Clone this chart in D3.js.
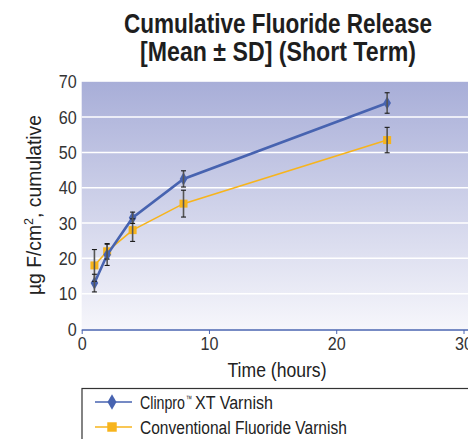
<!DOCTYPE html>
<html><head><meta charset="utf-8">
<script src="https://cdn.jsdelivr.net/npm/d3@7"></script>
<style>
body{margin:0;background:#fff;}
text{font-family:"Liberation Sans","Arial",sans-serif;}
</style></head>
<body><svg id="c" width="468" height="439"></svg>
<script>
const hours = [1, 2, 4, 8, 24];
const clinproMean = [13, 21, 31.5, 42.5, 64];
const clinproSD = [2.5, 3, 1.6, 2.3, 2.9];
const conventionalMean = [18, 22, 28, 35.5, 53.5];
const conventionalSD = [4.5, 2.2, 3.2, 3.8, 3.6];
const xTicks = [0, 10, 20, 30];
const yTicks = [0, 10, 20, 30, 40, 50, 60, 70];
const seriesNames = ["Clinpro\u2122 XT Varnish", "Conventional Fluoride Varnish"];
const titleLines = ["Cumulative Fluoride Release", "[Mean \u00b1 SD] (Short Term)"];

const svg = d3.select("#c");
const x = d3.scaleLinear().domain([0, 30]).range([81.7, 463.5]);
const y = d3.scaleLinear().domain([0, 70]).range([329, 81.8]);

function squeeze(sel, k) {
  sel.each(function() {
    const len = this.getComputedTextLength();
    d3.select(this).attr("textLength", len * k).attr("lengthAdjust", "spacingAndGlyphs");
  });
}
// text drawn inside a horizontally scaled group so it fits a given width
function narrowText(parent, cx, cy, anchor, width, size, weight, str) {
  const g = parent.append("g");
  const t = g.append("text").attr("x",0).attr("y",0).attr("text-anchor",anchor)
    .attr("font-size",size).attr("font-weight",weight).attr("fill","#1e1e1e").text(str);
  const k = width / t.node().getComputedTextLength();
  g.attr("transform",`translate(${cx},${cy}) scale(${k},1)`);
  return t;
}

const defs = svg.append("defs");
const grad = defs.append("linearGradient").attr("id","bg").attr("x1",0).attr("y1",0).attr("x2",0).attr("y2",1);
grad.append("stop").attr("offset","0%").attr("stop-color","#a8aed8");
grad.append("stop").attr("offset","100%").attr("stop-color","#f6f6fb");

svg.append("rect").attr("x", x(0)).attr("y", y(70)).attr("width", 468 - x(0)).attr("height", y(0) - y(70)).attr("fill","url(#bg)");

svg.append("g").selectAll("line").data(yTicks.filter(d=>d>0 && d<70)).join("line")
  .attr("x1", x(0)).attr("x2", 468).attr("y1", d=>y(d)).attr("y2", d=>y(d))
  .attr("stroke","#fff").attr("stroke-width",1.5);

const xAxis = svg.append("g").attr("transform",`translate(0,${y(0)+1})`)
  .call(d3.axisBottom(x).tickValues(xTicks).tickSize(4).tickPadding(3));
xAxis.select(".domain").attr("stroke","#4a65b0").attr("stroke-width",1.5).attr("d",`M${x(0)},0H468`);
xAxis.selectAll(".tick line").attr("stroke","#4a65b0");
xAxis.selectAll("text").attr("font-size",19).attr("fill","#333").attr("font-family","Liberation Sans, sans-serif");
squeeze(xAxis.selectAll("text"), 0.85);

const yAxis = svg.append("g").attr("transform",`translate(${x(0)-5},0)`)
  .call(d3.axisLeft(y).tickValues(yTicks).tickSize(0).tickPadding(0));
yAxis.select(".domain").remove();
yAxis.selectAll("text").attr("font-size",19).attr("fill","#333").attr("font-family","Liberation Sans, sans-serif");
squeeze(yAxis.selectAll("text"), 0.85);

narrowText(svg, 278, 33, "middle", 308, 28, "bold", titleLines[0]);
narrowText(svg, 278, 61, "middle", 276, 28, "bold", titleLines[1]);
narrowText(svg, 277, 377, "middle", 99, 20, "normal", "Time (hours)").attr("fill","#222");

svg.append("text").attr("transform","translate(41,205) rotate(-90)").attr("text-anchor","middle")
  .attr("font-size",20).attr("fill","#222")
  .html('\u00b5g F/cm<tspan dy="-8" font-size="13">2</tspan><tspan dy="8">, cumulative</tspan>')
  .attr("textLength",180).attr("lengthAdjust","spacingAndGlyphs");

const series = [
  {name: seriesNames[0], mean: clinproMean, sd: clinproSD, color: "#4763b0", w: 2.6, shape: d3.symbolDiamond, size: 50},
  {name: seriesNames[1], mean: conventionalMean, sd: conventionalSD, color: "#f7b41c", w: 1.6, shape: d3.symbolSquare, size: 64}
];

const line = d3.line().x(d=>x(d[0])).y(d=>y(d[1]));
[series[1], series[0]].forEach(s => {
  const pts = hours.map((h,i)=>[h, s.mean[i], s.sd[i]]);
  svg.append("path").attr("d", line(pts)).attr("fill","none").attr("stroke", s.color).attr("stroke-width", s.w);
  svg.append("g").selectAll("path").data(pts).join("path")
    .attr("d", d3.symbol().type(s.shape).size(s.size))
    .attr("transform", d=>`translate(${x(d[0])},${y(d[1])})`).attr("fill", s.color);
});
[series[1], series[0]].forEach(s => {
  const pts = hours.map((h,i)=>[h, s.mean[i], s.sd[i]]);
  const g = svg.append("g").attr("stroke","#1a1a1a").attr("stroke-width",1.1);
  pts.forEach(d => {
    const cx = x(d[0]);
    g.append("line").attr("x1",cx).attr("x2",cx).attr("y1",y(d[1]-d[2])).attr("y2",y(d[1]+d[2])).attr("stroke","#555").attr("stroke-width",1.6);
    g.append("line").attr("x1",cx-2.5).attr("x2",cx+2.5).attr("y1",y(d[1]-d[2])).attr("y2",y(d[1]-d[2]));
    g.append("line").attr("x1",cx-2.5).attr("x2",cx+2.5).attr("y1",y(d[1]+d[2])).attr("y2",y(d[1]+d[2]));
  });
});

svg.append("rect").attr("x",82).attr("y",388.5).attr("width",400).attr("height",60)
  .attr("fill","#fff").attr("stroke","#333").attr("stroke-width",1.2);
series.forEach((s,i) => {
  const ly = 402 + i*25;
  svg.append("line").attr("x1",95).attr("x2",132).attr("y1",ly).attr("y2",ly).attr("stroke",s.color).attr("stroke-width",1.5);
  svg.append("path").attr("d", d3.symbol().type(s.shape).size(s.size*1.4)).attr("transform",`translate(112,${ly})`).attr("fill",s.color);
  if (i === 0) {
    const parts = s.name.split("\u2122");
    narrowText(svg, 140, ly+7, "start", 45, 19, "normal", parts[0]).attr("fill","#222");
    narrowText(svg, 186, ly, "start", 6, 9, "normal", "\u2122").attr("fill","#222");
    narrowText(svg, 195, ly+7, "start", 78, 19, "normal", parts[1].trim()).attr("fill","#222");
  } else {
    narrowText(svg, 140, ly+7, "start", 207, 19, "normal", s.name).attr("fill","#222");
  }
});
</script></body></html>
